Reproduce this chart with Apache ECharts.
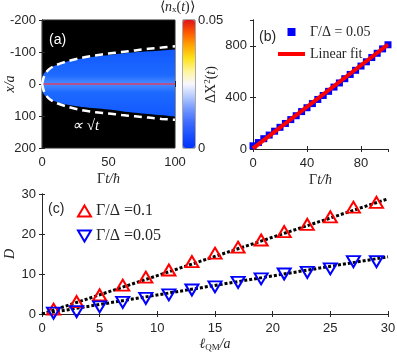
<!DOCTYPE html>
<html>
<head>
<meta charset="utf-8">
<script src="https://cdn.jsdelivr.net/npm/echarts@6/dist/echarts.min.js"></script>
<style>
  html, body { margin: 0; padding: 0; background: #fff; }
  #chart { width: 397px; height: 357px; }
</style>
</head>
<body>
<div id="chart"></div>
<script>
// (a) spreading wave packet
const edgeT = [0, 1, 3, 6, 10, 20, 30, 40, 50, 60, 70, 80, 90, 100]
const edgeTop = [-18, -30, -40, -50, -58, -72, -80, -86, -90, -95, -99, -102, -105, -108]
const edgeBottom = [18, 30, 40, 48, 55, 66, 72, 76, 80, 85, 90, 94, 98, 102]
const dashT = [0, 2, 5, 10, 20, 30, 40, 50, 60, 70, 80, 90, 100]
const dashTop = [0, -28, -45, -58, -72, -82, -89, -95, -100, -105, -110, -114, -118]
const dashBottom = [0, 28, 45, 58, 72, 82, 88, 92, 97, 101, 105, 109, 112]
const centerT = [0, 100]
const centerX = [0, 0]

// (b) variance vs time
const varT = [0, 4, 8, 12, 16, 20, 24, 28, 32, 36, 40, 44, 48, 52, 56, 60, 64, 68, 72, 76, 80, 84, 88, 92, 96, 100]
const varVals = [25, 50, 80, 108, 138, 168, 198, 228, 258, 290, 320, 352, 384, 415, 447, 480, 512, 545, 578, 610, 643, 676, 709, 742, 776, 808]
const fitT = [0, 100]
const fitVals = [5, 810]

// (c) D vs l_QM
const ellQM = [1, 3, 5, 7, 9, 11, 13, 15, 17, 19, 21, 23, 25, 27, 29]
const dStrong = [1.2, 3.1, 4.8, 7.2, 9.2, 11, 13.1, 15.2, 16.7, 18.5, 20.6, 22.4, 24.3, 26.7, 27.9]
const dWeak = [0.2, 0.6, 1.8, 2.9, 3.9, 4.8, 6, 6.8, 7.9, 8.8, 10, 10.4, 11.3, 13.1, 13.1]
const trendX = [0, 30]
const trendStrong = [0, 28.8]
const trendWeak = [0, 14.3]

const ink = '#262626'
const sans = 'Liberation Sans'
const serif = 'Liberation Serif'

const pairs = (xs, ys) => xs.map((x, i) => [x, ys[i]])

const label = { color: ink, fontSize: 13, fontFamily: sans, margin: 6, showMinLabel: true, showMaxLabel: true }
const tick = { show: true, inside: true, length: 3, lineStyle: { color: ink } }
const line = { show: true, lineStyle: { color: ink, width: 1 } }
const nameStyle = {
    color: ink, fontSize: 14, fontFamily: serif, fontStyle: 'italic',
    rich: {
        n: { fontSize: 14, fontFamily: serif, fontStyle: 'normal', color: ink },
        i: { fontSize: 14, fontFamily: serif, fontStyle: 'italic', color: ink },
        sup: { fontSize: 9, fontFamily: serif, fontStyle: 'normal', color: ink, padding: [0, 0, 7, 0] },
        sub: { fontSize: 9, fontFamily: serif, fontStyle: 'normal', color: ink, padding: [6, 0, 0, 0] }
    }
}

// main axis + a mirror axis that only carries the box ticks
function xPair (grid, min, max, interval, name, gap, lastLabel) {
    return [
        { type: 'value', gridIndex: grid, min, max, interval, position: 'bottom',
          axisLine: line, axisTick: tick, axisLabel: { ...label, margin: 8, showMaxLabel: lastLabel },
          splitLine: { show: false },
          name, nameLocation: 'middle', nameGap: gap, nameMoveOverlap: false, nameTextStyle: nameStyle },
        { type: 'value', gridIndex: grid, min, max, interval, position: 'top',
          axisLine: line, axisTick: tick, axisLabel: { show: false }, splitLine: { show: false } }
    ]
}
function yPair (grid, min, max, interval, name, gap, inverse, lastLabel) {
    return [
        { type: 'value', gridIndex: grid, min, max, interval, inverse, position: 'left',
          axisLine: line, axisTick: tick, axisLabel: { ...label, showMaxLabel: lastLabel },
          splitLine: { show: false },
          name, nameLocation: 'middle', nameGap: gap, nameRotate: 90, nameMoveOverlap: false, nameTextStyle: nameStyle },
        { type: 'value', gridIndex: grid, min, max, interval, inverse, position: 'right',
          axisLine: line, axisTick: tick, axisLabel: { show: false }, splitLine: { show: false } }
    ]
}

const chart = echarts.init(document.getElementById('chart'))

const option = {
    animation: false,
    grid: [
        { left: 42, top: 20, width: 133, height: 128, show: true, backgroundColor: '#000', borderColor: ink, outerBoundsMode: 'none' },
        { left: 253, top: 20, width: 135, height: 129, outerBoundsMode: 'none' },
        { left: 42, top: 194, width: 346, height: 120, outerBoundsMode: 'none' },
        { left: 183, top: 20, width: 12, height: 128, show: true, borderColor: '#555', outerBoundsMode: 'none' }
    ],
    xAxis: [
        ...xPair(0, 0, 100, 50, '{n|Γ}{i|t/ħ}', 24, true),
        ...xPair(1, 0, 100, 40, '{n|Γ}{i|t/ħ}', 24, false),
        ...xPair(2, 0, 30, 5, '{i|ℓ}{sub|QM}{i|/a}', 23, true),
        { type: 'value', gridIndex: 3, min: 0, max: 1, show: false }
    ],
    yAxis: [
        ...yPair(0, -200, 200, 100, '{i|x/a}', 25, true, true),
        ...yPair(1, 0, 1000, 400, '{n|ΔX}{sup|2}{n|(}{i|t}{n|)}', 34, false, false),
        ...yPair(2, 0, 30, 10, '{i|D}', 25, false, true),
        { type: 'value', gridIndex: 3, min: 0, max: 0.05, interval: 0.05, position: 'right',
          axisLine: { show: false }, axisTick: { show: false }, splitLine: { show: false },
          axisLabel: { ...label, margin: 3, formatter: v => v === 0 ? '0' : '0.05' } }
    ],
    visualMap: {
        type: 'continuous', min: 0, max: 0.05, seriesIndex: 13,
        left: 183, top: 20, itemWidth: 12, itemHeight: 128, padding: 0,
        calculable: false, text: null, hoverLink: false,
        inRange: { color: ['#0033ff', '#1a4fff', '#3d6cff', '#7096ff', '#b4c9ff', '#f7f7ff',
                           '#fff59a', '#ffe21a', '#ffa500', '#ff5a00', '#e0141a'] }
    },
    legend: [
        { orient: 'vertical', left: 278, top: 25, itemWidth: 27, itemHeight: 8, itemGap: 8, padding: 0,
          textStyle: { fontFamily: serif, fontSize: 14, color: ink },
          data: [
              { name: 'Γ/Δ = 0.05', icon: 'path://M0,0L1,0L1,1L0,1Z' },
              { name: 'Linear fit', icon: 'path://M0,0L27,0L27,4L0,4Z' }
          ] },
        { orient: 'vertical', left: 77, top: 203, itemWidth: 13, itemHeight: 11, itemGap: 9, padding: 0,
          textStyle: { fontFamily: serif, fontSize: 16, color: ink },
          data: [
              { name: 'Γ/Δ =0.1', icon: 'path://M6.5,0L13,11L0,11Z' },
              { name: 'Γ/Δ =0.05', icon: 'path://M0,0L13,0L6.5,11Z' }
          ] }
    ],
    graphic: [
        { type: 'text', left: 49, top: 33, style: { text: '(a)', fill: '#fff', font: '14px Liberation Sans' } },
        { type: 'text', left: 72, top: 119, style: { text: '∝ √t', fill: '#fff', font: 'italic 15px Liberation Serif' } },
        { type: 'text', left: 259, top: 30, style: { text: '(b)', fill: ink, font: '14px Liberation Sans' } },
        { type: 'text', left: 48, top: 202, style: { text: '(c)', fill: ink, font: '14px Liberation Sans' } },
        { type: 'text', left: 160, top: 0, style: {
            text: '{n|⟨}{i|n}{sub|x}{n|(}{i|t}{n|)⟩}', fill: ink,
            rich: nameStyle.rich } }
    ],
    series: [
        // (a) blue packet, upper and lower halves
        { type: 'line', xAxisIndex: 0, yAxisIndex: 0, data: pairs(edgeT, edgeTop), smooth: 0.3, symbol: 'none',
          lineStyle: { width: 0 },
          areaStyle: { opacity: 1, color: new echarts.graphic.LinearGradient(0, 0, 0, 1, [
              { offset: 0, color: '#1158ff' }, { offset: 0.75, color: '#1e6aff' }, { offset: 1, color: '#4a8cff' }]) } },
        { type: 'line', xAxisIndex: 0, yAxisIndex: 0, data: pairs(edgeT, edgeBottom), smooth: 0.3, symbol: 'none',
          lineStyle: { width: 0 },
          areaStyle: { opacity: 1, color: new echarts.graphic.LinearGradient(0, 0, 0, 1, [
              { offset: 0, color: '#4a8cff' }, { offset: 0.25, color: '#1e6aff' }, { offset: 1, color: '#1158ff' }]) } },
        { type: 'line', xAxisIndex: 0, yAxisIndex: 0, data: pairs(centerT, centerX), symbol: 'none',
          lineStyle: { color: '#d8406a', width: 1.5 } },
        { type: 'line', xAxisIndex: 0, yAxisIndex: 0, data: pairs(dashT, dashTop), smooth: 0.3, symbol: 'none',
          lineStyle: { color: '#fff', width: 2.5, type: [8, 5] } },
        { type: 'line', xAxisIndex: 0, yAxisIndex: 0, data: pairs(dashT, dashBottom), smooth: 0.3, symbol: 'none',
          lineStyle: { color: '#fff', width: 2.5, type: [8, 5] } },

        // (b)
        { name: 'Γ/Δ = 0.05', type: 'scatter', xAxisIndex: 2, yAxisIndex: 2, data: pairs(varT, varVals),
          symbol: 'rect', symbolSize: 7, itemStyle: { color: '#0000ff', opacity: 1 } },
        { name: 'Linear fit', type: 'line', xAxisIndex: 2, yAxisIndex: 2, data: pairs(fitT, fitVals),
          symbol: 'none', lineStyle: { color: '#ff0000', width: 4 }, itemStyle: { color: '#ff0000' } },

        // (c)
        { name: 'Γ/Δ =0.1', type: 'scatter', xAxisIndex: 4, yAxisIndex: 4, data: pairs(ellQM, dStrong),
          symbol: 'triangle', symbolSize: [13, 11],
          itemStyle: { color: 'rgba(0,0,0,0)', borderColor: '#ff0000', borderWidth: 2, opacity: 1 } },
        { name: 'Γ/Δ =0.05', type: 'scatter', xAxisIndex: 4, yAxisIndex: 4, data: pairs(ellQM, dWeak),
          symbol: 'triangle', symbolRotate: 180, symbolSize: [13, 11],
          itemStyle: { color: 'rgba(0,0,0,0)', borderColor: '#0000ff', borderWidth: 2, opacity: 1 } },
        { type: 'line', xAxisIndex: 4, yAxisIndex: 4, data: pairs(trendX, trendStrong), symbol: 'none', z: 1,
          lineStyle: { color: '#000', width: 3, type: [3, 2] } },
        { type: 'line', xAxisIndex: 4, yAxisIndex: 4, data: pairs(trendX, trendWeak), symbol: 'none', z: 1,
          lineStyle: { color: '#000', width: 3, type: [3, 2] } },
        // spacers so the colour bar series keeps index 13
        { type: 'line', xAxisIndex: 6, yAxisIndex: 6, data: [] },
        { type: 'line', xAxisIndex: 6, yAxisIndex: 6, data: [] },
        // colour bar carrier
        { type: 'scatter', xAxisIndex: 6, yAxisIndex: 6, data: [] }
    ]
}

chart.setOption(option)
</script>
</body>
</html>
